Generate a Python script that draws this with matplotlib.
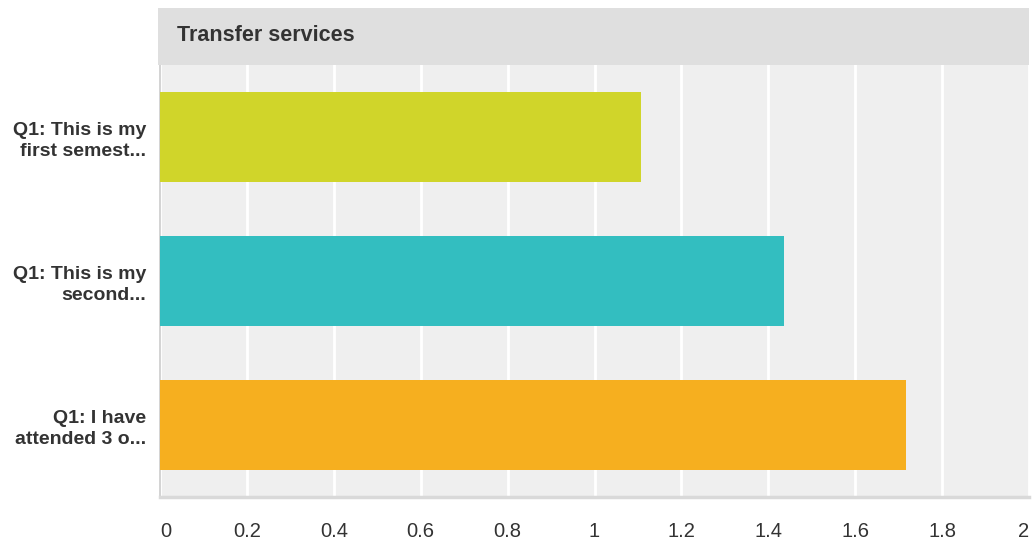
import matplotlib
matplotlib.use("Agg")
import matplotlib.pyplot as plt
from matplotlib.patches import Rectangle

categories = ["Q1: This is my\nfirst semest...", "Q1: This is my\nsecond...", "Q1: I have\nattended 3 o..."]
values = [1.107, 1.437, 1.717]
colors = ["#d0d52a", "#33bec0", "#f6af1f"]
title = "Transfer services"
xticks = [0, 0.2, 0.4, 0.6, 0.8, 1, 1.2, 1.4, 1.6, 1.8, 2]
xticklabels = ["0", "0.2", "0.4", "0.6", "0.8", "1", "1.2", "1.4", "1.6", "1.8", "2"]

W, H = 1036, 545
fig = plt.figure(figsize=(W/100, H/100), dpi=100)
plt.rcParams['font.family'] = ['Liberation Sans', 'DejaVu Sans']

left, right = 160/W, 1029/W
bottom, top = 1 - 497/H, 1 - 65/H
ax = fig.add_axes([left, bottom, right-left, top-bottom])
ax.set_facecolor("#efefef")

ypos = list(range(len(categories)))
ax.barh(ypos, values, height=0.63, color=colors, zorder=3)
ax.set_ylim(len(categories)-0.5, -0.5)
ax.set_xlim(0, 2)
ax.set_xticks(xticks)
ax.set_xticklabels(xticklabels, fontsize=14.5, color="#333333")
labs = ax.get_xticklabels()
labs[0].set_ha("left")
labs[-1].set_ha("right")
ax.set_yticks(ypos)
ax.set_yticklabels(categories, fontsize=14, fontweight="bold", color="#333333", linespacing=1.3)
ax.tick_params(axis='x', length=0, pad=18)
ax.tick_params(axis='y', length=0, pad=10)
ax.grid(axis='x', color="white", linewidth=2, zorder=1)
for s in ["top", "right"]:
    ax.spines[s].set_visible(False)
ax.spines["left"].set_color("#cccccc")
ax.spines["left"].set_linewidth(1.2)
ax.spines["bottom"].set_color("#d9d9d9")
ax.spines["bottom"].set_linewidth(2.5)

# header band
hb = 1 - 65/H
ht = 1 - 8/H
hl = 158/W
fig.patches.append(Rectangle((hl, hb), right-hl, ht-hb, transform=fig.transFigure,
                             facecolor="#dfdfdf", edgecolor="none", zorder=0))
fig.text(177/W, (hb+ht)/2 + 0.002, title, fontsize=15.5, fontweight="bold", color="#333333",
         va="center", ha="left")

fig.savefig("out.png", dpi=100)
